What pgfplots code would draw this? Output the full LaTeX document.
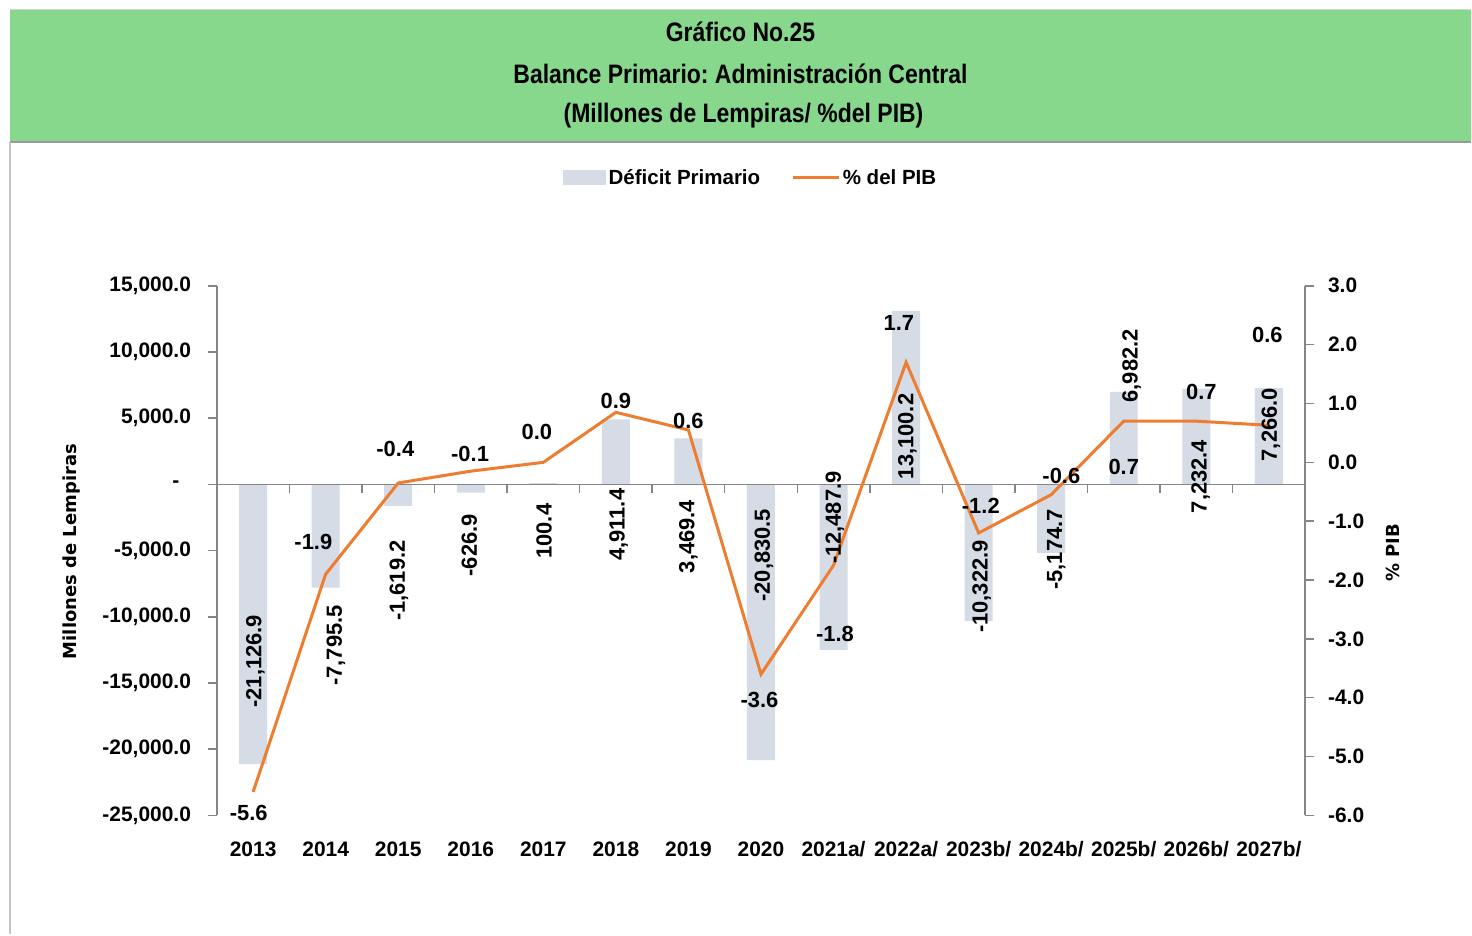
\documentclass[border=0pt]{standalone}
\usepackage{fontspec}
\setmainfont{Liberation Sans}
\newfontfamily\titlefam[FakeStretch=0.86]{Liberation Sans}
\newfontfamily\dvfam{DejaVu Sans}
\usepackage{pgfplots}
\usepackage{pgfplotstable}
\pgfplotsset{compat=1.18}
\frenchspacing

\definecolor{barcol}{RGB}{214,220,229}
\definecolor{linecol}{RGB}{237,125,49}
\definecolor{band}{RGB}{135,215,140}
\definecolor{axcol}{RGB}{134,134,134}

% one reference pixel
\newlength\px
\setlength\px{0.25mm}

\newcommand\tickfont{\bfseries\fontsize{14.9}{16}\selectfont}
\newcommand\datfont{\bfseries\fontsize{15.6}{17}\selectfont}
\newcommand\legfont{\bfseries\fontsize{14.6}{16}\selectfont}
\newcommand\axtitfont{\dvfam\bfseries\fontsize{12.8}{14}\selectfont}
\newcommand\titfont{\titlefam\bfseries\fontsize{19}{20}\selectfont}

\pgfplotstableread{
x  deficit   pib
0  -21126.9  -5.6
1  -7795.5   -1.9
2  -1619.2   -0.35
3  -626.9    -0.15
4  100.4     0.0
5  4911.4    0.85
6  3469.4    0.55
7  -20830.5  -3.6
8  -12487.9  -1.75
9  13100.2   1.7
10 -10322.9  -1.2
11 -5174.7   -0.55
12 6982.2    0.7
13 7232.4    0.7
14 7266.0    0.63
}\datatable

\begin{document}
\begin{tikzpicture}
% frame and title band
\fill[white] (0,0) rectangle (1472\px,935\px);
\fill[band] (10\px,793\px) rectangle (1472\px,925\px);
\draw[gray!35, line width=1\px] (10\px,925\px) -- (1472\px,925\px);
\draw[gray!80, line width=2\px] (10\px,793\px) -- (1472\px,793\px);
\draw[gray!45, line width=2\px] (10\px,0) -- (10\px,793\px);
\node[font=\titfont] at (741\px,903\px) {Gráfico No.25};
\node[font=\titfont] at (741\px,861\px) {Balance Primario: Administración Central};
\node[font=\titfont] at (744\px,819\px) {(Millones de Lempiras/ \%del PIB)};

% bars, left axis
\begin{axis}[
    at={(217\px,119\px)}, anchor=south west,
    scale only axis, width=1089\px, height=530\px,
    xmin=-0.5, xmax=14.5, ymin=-25000, ymax=15000,
    axis x line*=bottom, x axis line style={draw=none},
    xtick={0,...,14},
    xticklabels={2013,2014,2015,2016,2017,2018,2019,2020,2021a/,2022a/,2023b/,2024b/,2025b/,2026b/,2027b/},
    xtick style={draw=none},
    xticklabel style={font=\tickfont, yshift=-12\px},
    axis y line*=left, y axis line style={axcol, line width=1.5\px, -},
    ytick={-25000,-20000,...,15000},
    scaled y ticks=false,
    yticklabels={{-25,000.0},{-20,000.0},{-15,000.0},{-10,000.0},{-5,000.0},{-\hphantom{0}},{5,000.0},{10,000.0},{15,000.0}},
    tick align=outside, major tick length=9\px,
    ytick style={axcol, line width=1.5\px},
    yticklabel style={font=\tickfont, xshift=-12\px},
    clip=false,
]
\addplot[ybar, bar width=28\px, fill=barcol, draw=none] table[x=x, y=deficit] {\datatable};
\draw[axcol, line width=1.5\px] (axis cs:-0.5,0) -- (axis cs:14.5,0);
% small ticks on the zero line, between the categories (9 px = 680 units)
\pgfplotsinvokeforeach{0.5,1.5,2.5,3.5,4.5,5.5,6.5,7.5,8.5,9.5,10.5,11.5,12.5,13.5}{
  \draw[axcol, line width=1.5\px] (axis cs:#1,0) -- (axis cs:#1,-680);
}
\end{axis}

% % del PIB, right axis
\begin{axis}[
    at={(217\px,119\px)}, anchor=south west,
    scale only axis, width=1089\px, height=530\px,
    xmin=-0.5, xmax=14.5, ymin=-6, ymax=3,
    axis x line=none,
    axis y line*=right, y axis line style={axcol, line width=1.5\px, -},
    ytick={-6,...,3},
    yticklabels={-6.0,-5.0,-4.0,-3.0,-2.0,-1.0,0.0,1.0,2.0,3.0},
    tick align=outside, major tick length=9\px,
    ytick style={axcol, line width=1.5\px},
    yticklabel style={font=\tickfont, xshift=9\px},
    clip=false,
    legend columns=2,
    legend style={at={(0.491,1.204)}, anchor=center, draw=none, fill=none,
      font=\legfont, /tikz/every even column/.append style={column sep=28\px}},
]
\addlegendimage{legend image code/.code={\fill[barcol] (0,-7\px) rectangle (42\px,7\px);}}
\addlegendentry{Déficit Primario}
\addplot[linecol, line width=3\px,
  legend image code/.code={\draw[linecol, line width=3\px] (0,0) -- (46\px,0);}]
  table[x=x, y=pib] {\datatable};
\addlegendentry{\% del PIB}

% bar value labels
\begin{scope}[every node/.style={font=\datfont, rotate=90}]
\node at (axis cs:0.03,-3.38) {-21,126.9};
\node at (axis cs:1.14,-3.11) {-7,795.5};
\node at (axis cs:2.01,-2.01) {-1,619.2};
\node at (axis cs:2.98,-1.41) {-626.9};
\node at (axis cs:4.01,-1.17) {100.4};
\node at (axis cs:5.04,-1.06) {4,911.4};
\node at (axis cs:6.0,-1.26) {3,469.4};
\node at (axis cs:7.04,-1.58) {-20,830.5};
\node at (axis cs:8.02,-0.94) {-12,487.9};
\node at (axis cs:9.02,0.44) {13,100.2};
\node at (axis cs:10.04,-2.11) {-10,322.9};
\node at (axis cs:11.07,-1.48) {-5,174.7};
\node at (axis cs:12.11,1.64) {6,982.2};
\node at (axis cs:13.06,-0.24) {7,232.4};
\node at (axis cs:14.03,0.64) {7,266.0};
\end{scope}

% % del PIB labels
\begin{scope}[every node/.style={font=\datfont}]
\node at (axis cs:-0.06,-5.96) {-5.6};
\node at (axis cs:0.83,-1.35) {-1.9};
\node at (axis cs:1.96,0.22) {-0.4};
\node at (axis cs:2.99,0.15) {-0.1};
\node at (axis cs:3.91,0.52) {0.0};
\node at (axis cs:5.0,1.05) {0.9};
\node at (axis cs:6.0,0.71) {0.6};
\node at (axis cs:6.98,-4.03) {-3.6};
\node at (axis cs:8.02,-2.91) {-1.8};
\node at (axis cs:8.9,2.37) {1.7};
\node at (axis cs:10.03,-0.74) {-1.2};
\node at (axis cs:11.14,-0.23) {-0.6};
\node at (axis cs:12.0,-0.07) {0.7};
\node at (axis cs:13.07,1.2) {0.7};
\node at (axis cs:13.98,2.17) {0.6};
\end{scope}
\end{axis}

% axis titles
\node[font=\axtitfont, rotate=90] at (72\px,383\px) {Millones de Lempiras};
\node[font=\axtitfont, rotate=90] at (1394\px,382\px) {\% PIB};
\end{tikzpicture}
\end{document}
